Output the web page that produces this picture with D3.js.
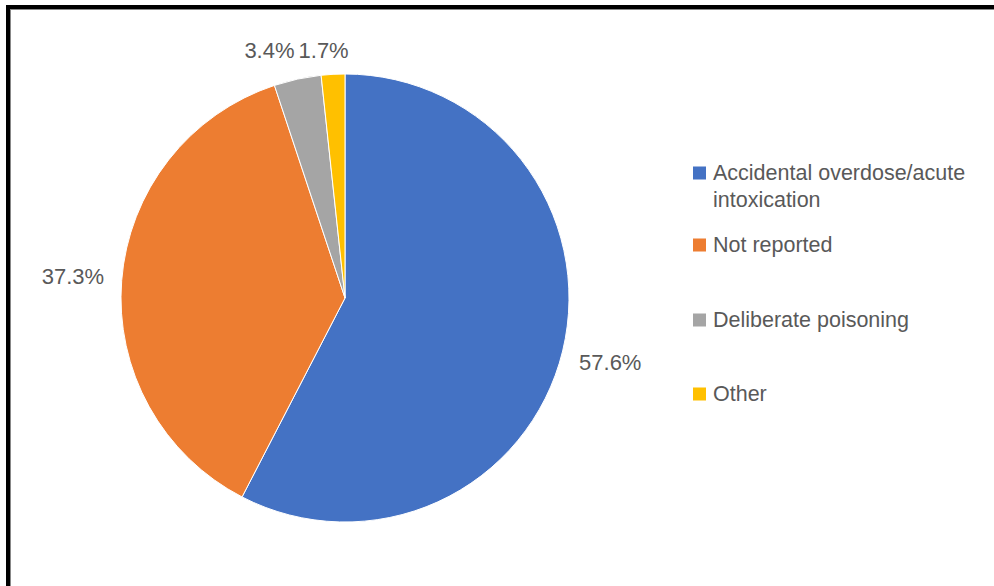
<!DOCTYPE html>
<html>
<head>
<meta charset="utf-8">
<script src="https://cdn.jsdelivr.net/npm/d3@7"></script>
<style>
  body { margin: 0; background: #fff; }
  text { font-family: "Liberation Sans", Arial, sans-serif; fill: #595959; }
</style>
</head>
<body>
<svg id="chart"></svg>
<script>
const width = 994
const height = 586

const categories = ['Accidental overdose/acute intoxication', 'Not reported', 'Deliberate poisoning', 'Other']
const legendLines = [['Accidental overdose/acute', 'intoxication'], ['Not reported'], ['Deliberate poisoning'], ['Other']]
const values = [57.6, 37.3, 3.4, 1.7]
const colors = ['#4472C4', '#ED7D31', '#A5A5A5', '#FFC000']

const svg = d3.select('#chart').attr('width', width).attr('height', height)

// frame (left + top only, like the cropped screenshot)
svg.append('rect').attr('x', 6).attr('y', 5).attr('width', 4).attr('height', height).attr('fill', '#000')
svg.append('rect').attr('x', 6).attr('y', 5).attr('width', width).attr('height', 4).attr('fill', '#000')
svg.append('line').attr('x1', 10.5).attr('y1', 9).attr('x2', 10.5).attr('y2', height).attr('stroke', '#888')
svg.append('line').attr('x1', 10).attr('y1', 9.5).attr('x2', width).attr('y2', 9.5).attr('stroke', '#888')

const cx = 345
const cy = 298
const r = 224

const pie = d3.pie().sort(null).value(d => d)
const arcs = pie(values)
const arc = d3.arc().innerRadius(0).outerRadius(r)

const g = svg.append('g').attr('transform', `translate(${cx},${cy})`)

g.selectAll('path')
  .data(arcs)
  .enter().append('path')
  .attr('d', arc)
  .attr('fill', (d, i) => colors[i])
  .attr('stroke', '#fff')
  .attr('stroke-width', 1)

// labels
const labels = g.selectAll('text.lbl')
  .data(arcs)
  .enter().append('text')
  .attr('class', 'lbl')
  .attr('text-anchor', 'middle')
  .attr('dominant-baseline', 'central')
  .style('font-size', '22px')
  .text(d => d.value.toFixed(1) + '%')

const pos = arcs.map((d, i) => {
  const small = (d.endAngle - d.startAngle) < 0.35
  const lr = small ? r + 27 : r + 49
  const a = (d.startAngle + d.endAngle) / 2
  return { x: Math.sin(a) * lr, y: -Math.cos(a) * lr, w: labels.nodes()[i].getComputedTextLength(), small }
})

// small labels share one line; overlapping ones are pushed left
const smallIdx = pos.map((p, i) => i).filter(i => pos[i].small).sort((a, b) => pos[b].x - pos[a].x)
const topY = d3.mean(smallIdx, i => pos[i].y)
for (let k = 0; k < smallIdx.length; k++) {
  const p = pos[smallIdx[k]]
  p.y = topY
  if (k === 0) p.x -= 8
  else {
    const q = pos[smallIdx[k - 1]]
    const minX = q.x - q.w / 2 - p.w / 2 - 4
    if (p.x > minX) p.x = minX
  }
}

labels.attr('x', (d, i) => pos[i].x).attr('y', (d, i) => pos[i].y)

// legend
const legendX = 693
const rowY = [173, 245, 320, 394]
const lineH = 27

const legend = svg.append('g')
categories.forEach((c, i) => {
  legend.append('rect')
    .attr('x', legendX).attr('y', rowY[i] - 6.5)
    .attr('width', 13).attr('height', 13)
    .attr('fill', colors[i])
  legendLines[i].forEach((t, j) => {
    legend.append('text')
      .attr('x', legendX + 20)
      .attr('y', rowY[i] + j * lineH)
      .attr('dominant-baseline', 'central')
      .style('font-size', '21.5px')
      .text(t)
  })
})
</script>
</body>
</html>
